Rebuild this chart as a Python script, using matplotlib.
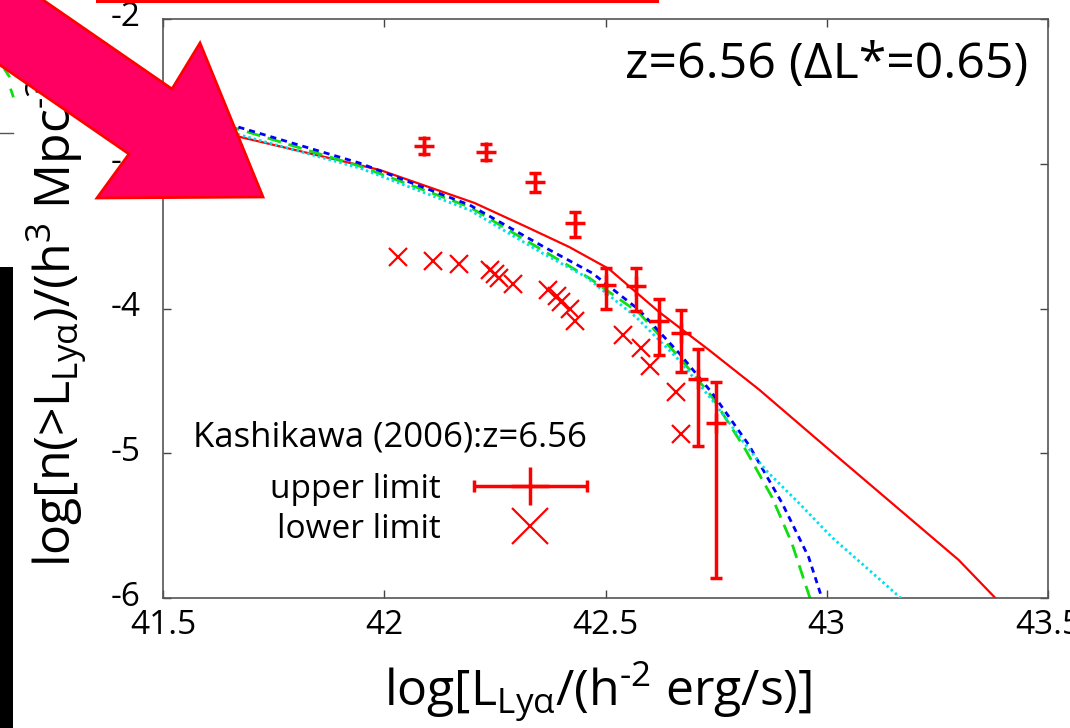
import numpy as np
import matplotlib
matplotlib.use('Agg')
import matplotlib.pyplot as plt
from matplotlib.lines import Line2D
from matplotlib.patches import Polygon, Rectangle
from matplotlib.legend_handler import HandlerErrorbar
from matplotlib.transforms import ScaledTranslation

# Fonts (humanist sans, upright greek in math)
plt.rcParams['font.family'] = ['Open Sans', 'DejaVu Sans']
plt.rcParams['mathtext.fontset'] = 'custom'
plt.rcParams['mathtext.rm'] = 'Open Sans'
plt.rcParams['mathtext.it'] = 'Open Sans'
plt.rcParams['mathtext.bf'] = 'Open Sans'
plt.rcParams['mathtext.sf'] = 'Open Sans'
plt.rcParams['axes.unicode_minus'] = False

# Model curves: log L_Lya vs log n(>L)
red_x = [41.5, 41.674, 41.990, 42.204, 42.317, 42.418, 42.508, 42.621, 42.734, 42.847, 43.011, 43.298, 43.381, 43.42]
red_y = [-2.684, -2.815, -3.043, -3.271, -3.430, -3.575, -3.727, -4.024, -4.287, -4.560, -4.990, -5.737, -6.0, -6.13]

green_x = [41.5, 41.662, 41.944, 42.193, 42.357, 42.463, 42.576, 42.666, 42.741, 42.817, 42.876, 42.921, 42.962, 42.98]
green_y = [-2.63, -2.753, -3.016, -3.299, -3.596, -3.789, -4.031, -4.335, -4.611, -4.978, -5.302, -5.620, -6.0, -6.2]

blue_x = [41.5, 41.662, 41.944, 42.193, 42.357, 42.470, 42.576, 42.666, 42.741, 42.824, 42.899, 42.959, 42.989, 43.0]
blue_y = [-2.615, -2.739, -2.995, -3.285, -3.568, -3.755, -4.010, -4.307, -4.584, -4.943, -5.344, -5.717, -6.0, -6.1]

cyan_x = [41.5, 41.674, 41.944, 42.193, 42.357, 42.456, 42.569, 42.666, 42.741, 42.817, 42.862, 42.937, 43.011, 43.088, 43.167, 43.2]
cyan_y = [-2.643, -2.801, -3.029, -3.320, -3.617, -3.782, -4.059, -4.356, -4.632, -4.943, -5.116, -5.344, -5.579, -5.786, -6.0, -6.08]

# Kashikawa (2006) upper limits with error bars
ul_x = [42.09, 42.23, 42.34, 42.43, 42.50, 42.57, 42.62, 42.67, 42.71, 42.75]
ul_y = [-2.877, -2.919, -3.126, -3.409, -3.838, -3.845, -4.086, -4.169, -4.487, -4.791]
ul_top = [-2.822, -2.864, -3.064, -3.333, -3.720, -3.720, -3.934, -4.010, -4.280, -4.508]
ul_bottom = [-2.933, -2.974, -3.195, -3.506, -4.003, -4.017, -4.321, -4.439, -4.950, -5.862]

# Kashikawa (2006) lower limits
ll_x = [42.03, 42.11, 42.17, 42.24, 42.25, 42.26, 42.29, 42.37, 42.39, 42.40,
        42.42, 42.43, 42.54, 42.58, 42.60, 42.66, 42.67]
ll_y = [-3.644, -3.672, -3.693, -3.734, -3.762, -3.789, -3.831, -3.872, -3.914, -3.955,
        -4.003, -4.086, -4.183, -4.273, -4.397, -4.577, -4.867]

# Tick labels
x_ticks = [41.5, 42, 42.5, 43, 43.5]
x_ticklabels = ['41.5', '42', '42.5', '43', '43.5']
y_ticks = [-6, -5, -4, -3, -2]
y_ticklabels = ['-6', '-5', '-4', '-3', '-2']

W, H = 1070, 728


# Pixel position (from top-left) to figure fraction
def px(x, y):
    return x / W, 1 - y / H


fig = plt.figure(figsize=(W / 100, H / 100), dpi=100)
ax = fig.add_axes([163 / W, 1 - 598 / H, (1048 - 163) / W, (598 - 19) / H])

# Model curves
ax.plot(red_x, red_y, color='#ff0000', lw=1.6, zorder=2)
ax.plot(green_x, green_y, color='#11dd11', lw=2, dashes=(5, 2.8), zorder=2)
ax.plot(blue_x, blue_y, color='#0000ff', lw=2, dashes=(2.2, 1.8), zorder=3)
ax.plot(cyan_x, cyan_y, color='#00e0ee', lw=2, dashes=(0.9, 1.1), zorder=3)

# Observations
yerr = [[y - b for y, b in zip(ul_y, ul_bottom)], [t - y for y, t in zip(ul_y, ul_top)]]
ax.errorbar(ul_x, ul_y, yerr=yerr, fmt='+', color='red', ms=14, mew=2.5,
            elinewidth=2.5, capsize=4, capthick=2.5, zorder=4)
ax.plot(ll_x, ll_y, 'x', color='red', ms=13, mew=1.6, zorder=4)

# Axes
ax.set_xlim(41.5, 43.5)
ax.set_ylim(-6, -2)
ax.set_xticks(x_ticks)
ax.set_xticklabels(x_ticklabels)
ax.set_yticks(y_ticks)
ax.set_yticklabels(y_ticklabels)
ax.tick_params(direction='in', length=6, width=1, color='#444444',
               top=True, right=True)
ax.tick_params(axis='x', labelsize=24, pad=8)
ax.tick_params(axis='y', labelsize=24, pad=16)
for s in ax.spines.values():
    s.set_color('#555555')
    s.set_linewidth(1.2)

# gnuplot puts the y labels a little above their ticks
lift = ScaledTranslation(0, 0.05, fig.dpi_scale_trans)
for lbl in ax.get_yticklabels():
    lbl.set_transform(lbl.get_transform() + lift)

# Axis labels
fig.text(*px(598, 705), r'log[L$_{Ly\alpha}$/(h$^{\text{-}2}$ erg/s)]', fontsize=36,
         ha='center', va='baseline')
fig.text(*px(70, 567), r'log[n(>L$_{Ly\alpha}$)/(h$^{3}$ Mpc$^{\text{-}3}$)]', fontsize=36,
         rotation=90, rotation_mode='anchor', ha='left', va='baseline')

# Panel label
fig.text(*px(1028, 65), 'z=6.56 (\u0394L*=0.65)', fontsize=36, ha='right', va='center')

# Key (proxy errorbar with a nan point so the caps exist)
key_ul = ax.errorbar([np.nan], [np.nan], xerr=[np.nan], fmt='+', color='red', ms=14,
                     mew=2.5, elinewidth=2.5, capsize=4.5, capthick=2.5)
key_ll = Line2D([], [], marker='x', ls='none', color='red', ms=13, mew=1.6)
fig.text(*px(587, 437), 'Kashikawa (2006):z=6.56', fontsize=25, ha='right', va='center')
ax.legend([key_ul, key_ll], ['upper limit', 'lower limit'],
          handler_map={type(key_ul): HandlerErrorbar(xerr_size=1.7)},
          loc='upper right', bbox_to_anchor=px(587, 473), bbox_transform=fig.transFigure,
          markerfirst=False, frameon=False, fontsize=24, markerscale=2,
          handlelength=3.4, handletextpad=1.0, labelspacing=0.2, borderpad=0,
          borderaxespad=0)

# Slide decorations drawn over the chart
arrow_px = [(43, 0), (172, 89), (200, 43), (263, 197), (97, 198), (129, 154),
            (0, 65), (-30, 44), (-30, -30), (0, -30)]
fig.add_artist(Polygon([px(x, y) for x, y in arrow_px], closed=True,
                       transform=fig.transFigure, facecolor='#ff0062',
                       edgecolor='#ff0000', lw=2, zorder=10))
x0, y0 = px(96, 3)
fig.add_artist(Rectangle((x0, y0), (659 - 96) / W, 3 / H, transform=fig.transFigure,
                         color='#ff0000', lw=0, zorder=10))
x0, y0 = px(0, 728)
fig.add_artist(Rectangle((x0, y0), 13 / W, (728 - 267) / H, transform=fig.transFigure,
                         color='black', lw=0, zorder=10))
fig.add_artist(Line2D([0, 13 / W], [1 - 133 / H] * 2, transform=fig.transFigure,
                      color='#555555', lw=1, zorder=9))
fig.add_artist(Line2D([5 / W, 9 / W], [1 - 70 / H, 1 - 76 / H], transform=fig.transFigure,
                      color='#11dd11', lw=2, zorder=9))
fig.add_artist(Line2D([11 / W, 13 / W], [1 - 90 / H, 1 - 96 / H], transform=fig.transFigure,
                      color='#11dd11', lw=2, zorder=9))

fig.savefig('out.png', dpi=100)
